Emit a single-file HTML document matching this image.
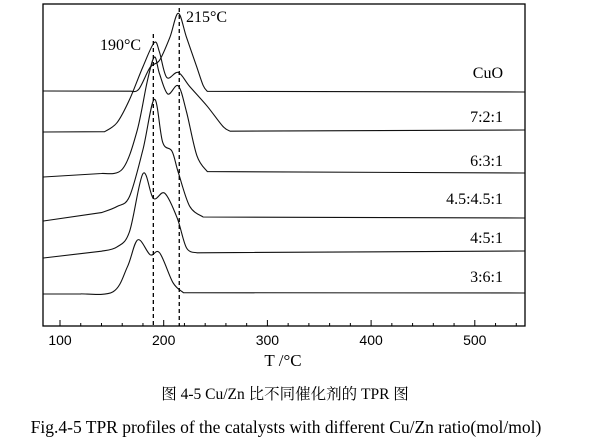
<!DOCTYPE html>
<html><head><meta charset="utf-8"><style>
body{margin:0;background:#fff;width:600px;height:447px;overflow:hidden}
svg{display:block}
</style></head><body>
<svg id="chart" width="600" height="447" xmlns="http://www.w3.org/2000/svg" font-family="'Liberation Serif','Noto Serif CJK SC',serif">
<rect x="43" y="4" width="482" height="322" fill="none" stroke="#000" stroke-width="1.3"/>
<g id="ticks"></g>
<g id="curves"></g>
<g id="labels"></g>
<text x="100" y="50" font-size="16">190°C</text>
<text x="186" y="22" font-size="16">215°C</text>
<text x="283" y="366" font-size="17" text-anchor="middle">T /°C</text>
<text x="285" y="399" font-size="15.5" text-anchor="middle">图 4-5 Cu/Zn 比不同催化剂的 TPR 图</text>
<text x="286" y="433" font-size="17.5" text-anchor="middle">Fig.4-5 TPR profiles of the catalysts with different Cu/Zn ratio(mol/mol)</text>
</svg>
<script>
const seriesNames=["CuO","7:2:1","6:3:1","4.5:4.5:1","4:5:1","3:6:1"];
const baseLeft=[91,132,177,221,258,294];
const baseRight=[92,130,173,218,251,293];
const temps0=[84,168,176,187,196,206,214,222,232,238,242,548];
const heights0=[0,0,2,24,31,54,78,54,24,6,0,0];
const temps1=[84,143,155,167,180,191,196,203,214,225,242,257,264,548];
const heights1=[0,0,9,32,65,89,79,54,59,45,25,5,0,0];
const temps2=[84,140,160,174,184,191,196,204,214,222,232,242,548];
const heights2=[0,3,7,44,94,119,102,82,90,64,20,4,0];
const temps3=[84,140,155,167,180,191,199,208,214,225,238,548];
const heights3=[0,8,14,24,71,121,78,69,48,14,3,0];
const temps4=[84,140,155,167,180,190,201,213,222,232,548];
const heights4=[0,6,10,25,83,58,63,38,8,3,0];
const temps5=[84,120,151,165,175,187,196,209,219,548];
const heights5=[0,0,2,27,54,39,41,11,1,0];
const allTemps=[temps0,temps1,temps2,temps3,temps4,temps5];
const allHeights=[heights0,heights1,heights2,heights3,heights4,heights5];
const tickMajor=[100,200,300,400,500];
const dashedTemps=[190,215];
const dashedTops=[34,8];
const labelY=[78,122,166,204,243,282];

const xS=t=>60+(t-100)*1.037;
const yS=(i,t,h)=>{const f=(t-84)/(548-84);return baseLeft[i]+(baseRight[i]-baseLeft[i])*f-h;};
const NS="http://www.w3.org/2000/svg";
function mk(tag,attrs,parent){const e=document.createElementNS(NS,tag);for(const k in attrs)e.setAttribute(k,attrs[k]);parent.appendChild(e);return e;}
const FAR=35;
function spline(p){let d="M"+p[0][0].toFixed(1)+","+p[0][1].toFixed(1);
for(let i=0;i<p.length-1;i++){const p1=p[i],p2=p[i+1];
 if(p2[0]-p1[0]>FAR){d+=" L"+p2[0].toFixed(1)+","+p2[1].toFixed(1);continue;}
 let p0=p[i-1]||p1; if(p1[0]-p0[0]>FAR)p0=p1;
 let p3=p[i+2]||p2; if(p3[0]-p2[0]>FAR)p3=p2;
 const c1=[p1[0]+(p2[0]-p0[0])/6,p1[1]+(p2[1]-p0[1])/6],c2=[p2[0]-(p3[0]-p1[0])/6,p2[1]-(p3[1]-p1[1])/6];
 d+=" C"+c1.map(v=>v.toFixed(1))+" "+c2.map(v=>v.toFixed(1))+" "+p2[0].toFixed(1)+","+p2[1].toFixed(1);}return d;}
const curves=document.getElementById("curves");
for(let i=0;i<seriesNames.length;i++){
 const pts=allTemps[i].map((t,j)=>[xS(t),yS(i,t,allHeights[i][j])]);
 const p=mk("path",{d:spline(pts),fill:"none",stroke:"#111","stroke-width":"1.1"},curves);
 
 
}
for(let k=0;k<dashedTemps.length;k++){
 const l=mk("line",{x1:xS(dashedTemps[k]),x2:xS(dashedTemps[k]),y1:dashedTops[k],y2:326,stroke:"#000","stroke-width":"1.3","stroke-dasharray":"4,3"},curves);
 
 
}
const labels=document.getElementById("labels");
for(let i=0;i<seriesNames.length;i++){
 const t=mk("text",{x:503,y:labelY[i],"font-size":"16","text-anchor":"end"},labels);
 t.textContent=seriesNames[i];
 
 
}
const ticks=document.getElementById("ticks");
for(let t=100;t<=540;t+=20){
 const major=tickMajor.includes(t);
 const l=mk("line",{x1:xS(t),x2:xS(t),y1:326,y2:major?320:323,stroke:"#000","stroke-width":"1"},ticks);
 
 
}
for(const t of tickMajor){
 const tx=mk("text",{x:xS(t),y:345,"font-size":"14","text-anchor":"middle","font-family":"'Liberation Sans',sans-serif"},ticks);
 tx.textContent=t;
 
 
}
</script>
</body></html>
